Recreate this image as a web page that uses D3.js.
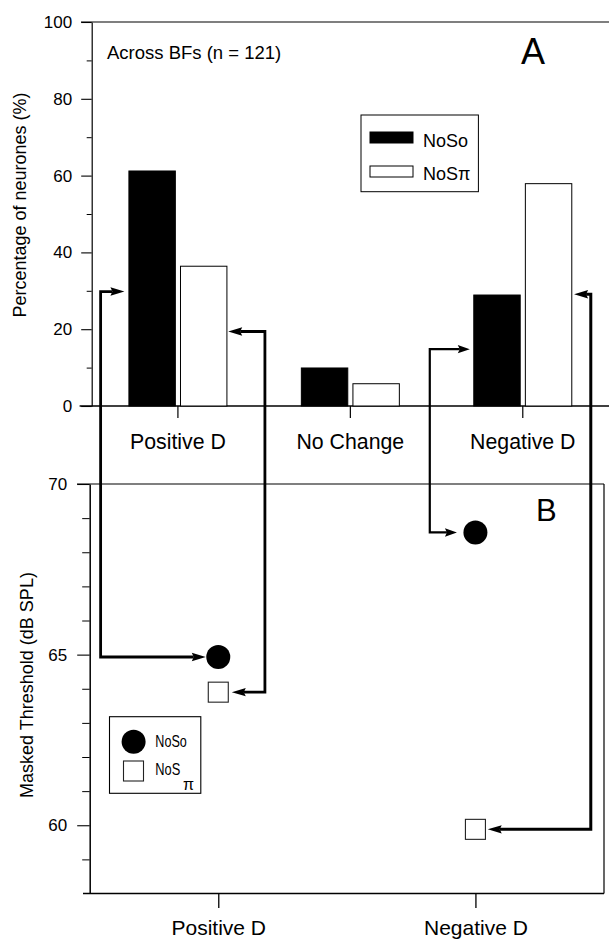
<!DOCTYPE html>
<html>
<head>
<meta charset="utf-8">
<script src="https://cdn.jsdelivr.net/npm/d3@7/dist/d3.min.js"></script>
<style>
  html, body { margin: 0; padding: 0; background: #fff; }
  svg { display: block; }
  text { font-family: "Liberation Sans", Arial, Helvetica, sans-serif; fill: #000; }
</style>
</head>
<body>
<svg id="chart" width="609" height="940"></svg>
<script>
// ---------- DATA ----------
const categoriesA = ["Positive D", "No Change", "Negative D"];
const seriesNames = ["NoSo", "NoSπ"];
const noSoPercent = [61.2, 9.9, 28.9];
const noSpiPercent = [36.4, 5.8, 57.9];
const yTicksA = [0, 20, 40, 60, 80, 100];
const yMinorTicksA = [10, 30, 50, 70, 90];

const categoriesB = ["Positive D", "Negative D"];
const noSoThreshold = [64.93, 68.58];
const noSpiThreshold = [63.9, 59.88];
const yTicksB = [60, 65, 70];
const yMinorTicksB = [59, 61, 62, 63, 64, 66, 67, 68, 69];

// connector levels on panel A (percent) for: PosD-NoSo, PosD-NoSpi, NegD-NoSo, NegD-NoSpi
const connectorLevelsA = [29.8, 19.4, 14.8, 29.1];

// ---------- SETUP ----------
const svg = d3.select("#chart");
const FONT = '"Liberation Sans", Arial, Helvetica, sans-serif';

// Panel A scales
const yA = d3.scaleLinear().domain([0, 100]).range([406, 22]);
const xA = d3.scaleBand().domain(categoriesA).range([91.7, 609]).padding(0);
const xAc = c => xA(c) + xA.bandwidth() / 2;
const xInner = d3.scaleBand().domain(seriesNames).range([-49, 49]).paddingInner(0.1);

// Panel B scales
const yB = d3.scaleLinear().domain([58, 70]).range([893.5, 484]);
const xB = d3.scalePoint().domain(categoriesB).range([89.7, 604]).padding(0.5);

// ---------- PANEL A ----------
const gA = svg.append("g");

// top frame line
gA.append("line").attr("x1", 81).attr("x2", 609).attr("y1", yA(100)).attr("y2", yA(100))
  .attr("stroke", "#000").attr("stroke-width", 1.2);

// x axis line
gA.append("line").attr("x1", 79.6).attr("x2", 609).attr("y1", yA(0)).attr("y2", yA(0))
  .attr("stroke", "#000").attr("stroke-width", 1.3);

// y axis major
const yAxisA = gA.append("g").attr("transform", "translate(91.7,0)")
  .call(d3.axisLeft(yA).tickValues(yTicksA).tickSize(10.5).tickSizeOuter(0).tickPadding(9));
yAxisA.select(".domain").attr("stroke", "#000").attr("stroke-width", 1.2);
yAxisA.selectAll(".tick line").attr("stroke", "#000").attr("stroke-width", 1.1);
yAxisA.selectAll("text").style("font-family", FONT).style("font-size", "17px").attr("fill", "#000");
// y axis minor
const yAxisAm = gA.append("g").attr("transform", "translate(91.7,0)")
  .call(d3.axisLeft(yA).tickValues(yMinorTicksA).tickSize(5).tickFormat(""));
yAxisAm.select(".domain").remove();
yAxisAm.selectAll(".tick line").attr("stroke", "#000").attr("stroke-width", 1);

// x axis ticks + labels
const xAxisA = gA.append("g").attr("transform", `translate(0,${yA(0)})`)
  .call(d3.axisBottom(xA).tickSize(12).tickSizeOuter(0));
xAxisA.select(".domain").remove();
xAxisA.selectAll(".tick line").attr("stroke", "#000").attr("stroke-width", 1.2);
xAxisA.selectAll("text").attr("y", 43).attr("dy", 0)
  .style("font-family", FONT).style("font-size", "21.3px").attr("fill", "#000");

// bars
const barData = categoriesA.map((c, i) => ({ cat: c, vals: [noSoPercent[i], noSpiPercent[i]] }));
const grp = gA.selectAll("g.cat").data(barData).join("g").attr("class", "cat")
  .attr("transform", d => `translate(${xAc(d.cat)},0)`);
grp.selectAll("rect").data(d => d.vals.map((v, j) => ({ s: seriesNames[j], v })))
  .join("rect")
  .attr("x", d => xInner(d.s))
  .attr("width", xInner.bandwidth())
  .attr("y", d => yA(d.v))
  .attr("height", d => yA(0) - yA(d.v))
  .attr("fill", d => d.s === "NoSo" ? "#000" : "#fff")
  .attr("stroke", "#000")
  .attr("stroke-width", 1);

// panel label & note
gA.append("text").attr("x", 107).attr("y", 59).text("Across BFs (n = 121)")
  .style("font-size", "18.5px");
gA.append("text").attr("x", 521).attr("y", 64).text("A").style("font-size", "36px");

// y title A
gA.append("text").attr("transform", "translate(26,205) rotate(-90)")
  .attr("text-anchor", "middle").text("Percentage of neurones (%)").style("font-size", "18px");

// legend A
const lgA = gA.append("g");
lgA.append("rect").attr("x", 361).attr("y", 115).attr("width", 117.4).attr("height", 76.7)
  .attr("fill", "#fff").attr("stroke", "#000").attr("stroke-width", 1);
lgA.append("rect").attr("x", 370).attr("y", 132).attr("width", 43).attr("height", 11)
  .attr("fill", "#000").attr("stroke", "#000");
lgA.append("rect").attr("x", 370).attr("y", 166).attr("width", 43).attr("height", 11)
  .attr("fill", "#fff").attr("stroke", "#000");
lgA.append("text").attr("x", 423).attr("y", 146.5).text(seriesNames[0]).style("font-size", "18px");
lgA.append("text").attr("x", 423).attr("y", 180).text(seriesNames[1]).style("font-size", "18px");

// ---------- PANEL B ----------
const gB = svg.append("g");

// frame: top, right, bottom
gB.append("line").attr("x1", 77).attr("x2", 604).attr("y1", yB(70)).attr("y2", yB(70))
  .attr("stroke", "#000").attr("stroke-width", 1.2);
gB.append("line").attr("x1", 604).attr("x2", 604).attr("y1", yB(70)).attr("y2", yB(58))
  .attr("stroke", "#000").attr("stroke-width", 1.2);
gB.append("line").attr("x1", 83).attr("x2", 604).attr("y1", yB(58)).attr("y2", yB(58))
  .attr("stroke", "#000").attr("stroke-width", 1.5);

const yAxisB = gB.append("g").attr("transform", "translate(89.7,0)")
  .call(d3.axisLeft(yB).tickValues(yTicksB).tickSize(12.5).tickSizeOuter(0).tickPadding(10));
yAxisB.select(".domain").attr("stroke", "#000").attr("stroke-width", 1.5);
yAxisB.selectAll(".tick line").attr("stroke", "#000").attr("stroke-width", 1.1);
yAxisB.selectAll("text").style("font-family", FONT).style("font-size", "17px").attr("fill", "#000");
const yAxisBm = gB.append("g").attr("transform", "translate(89.7,0)")
  .call(d3.axisLeft(yB).tickValues(yMinorTicksB).tickSize(7.5).tickFormat(""));
yAxisBm.select(".domain").remove();
yAxisBm.selectAll(".tick line").attr("stroke", "#000").attr("stroke-width", 1);

const xAxisB = gB.append("g").attr("transform", `translate(0,${yB(58)})`)
  .call(d3.axisBottom(xB).tickSize(14.5).tickSizeOuter(0));
xAxisB.select(".domain").remove();
xAxisB.selectAll(".tick line").attr("stroke", "#000").attr("stroke-width", 1.3);
xAxisB.selectAll("text").attr("y", 41.5).attr("dy", 0)
  .style("font-family", FONT).style("font-size", "21px").attr("fill", "#000");

// y title B
gB.append("text").attr("transform", "translate(33,685) rotate(-90)")
  .attr("text-anchor", "middle").text("Masked Threshold (dB SPL)").style("font-size", "18px");

gB.append("text").attr("x", 536).attr("y", 520.5).text("B").style("font-size", "31px");

// points
const R = 12, SQ = 20;
gB.selectAll("circle.noso").data(categoriesB.map((c, i) => ({ c, v: noSoThreshold[i] })))
  .join("circle").attr("class", "noso")
  .attr("cx", d => xB(d.c)).attr("cy", d => yB(d.v)).attr("r", R)
  .attr("fill", "#000");
gB.selectAll("rect.nospi").data(categoriesB.map((c, i) => ({ c, v: noSpiThreshold[i] })))
  .join("rect").attr("class", "nospi")
  .attr("x", d => xB(d.c) - SQ / 2).attr("y", d => yB(d.v) - SQ / 2)
  .attr("width", SQ).attr("height", SQ)
  .attr("fill", "#fff").attr("stroke", "#222").attr("stroke-width", 1.1);

// legend B
const lgB = gB.append("g");
lgB.append("rect").attr("x", 109.5).attr("y", 716.7).attr("width", 91.3).attr("height", 76.6)
  .attr("fill", "#fff").attr("stroke", "#000").attr("stroke-width", 1.1);
lgB.append("circle").attr("cx", 133.6).attr("cy", 741.7).attr("r", R).attr("fill", "#000");
lgB.append("rect").attr("x", 123.5).attr("y", 761).attr("width", SQ).attr("height", SQ)
  .attr("fill", "#fff").attr("stroke", "#222").attr("stroke-width", 1.1);
lgB.append("text").attr("x", 155.3).attr("y", 747).text("NoSo")
  .style("font-size", "16px").attr("textLength", 31.5).attr("lengthAdjust", "spacingAndGlyphs");
lgB.append("text").attr("x", 155.3).attr("y", 775).text("NoS")
  .style("font-size", "16px").attr("textLength", 25).attr("lengthAdjust", "spacingAndGlyphs");
lgB.append("text").attr("x", 183).attr("y", 790).text("π").style("font-size", "16px");

// ---------- CONNECTORS ----------
const gC = svg.append("g");
function arrowHead(tipX, tipY, dir, len, half) {
  const bx = tipX - dir * len;
  gC.append("path")
    .attr("d", `M${tipX},${tipY}L${bx},${tipY - half}L${bx + dir * 2},${tipY}L${bx},${tipY + half}Z`)
    .attr("fill", "#000");
}
function connector(ax, ay, vx, bx, by, dir, w, len) {
  const pA = ax - dir * (len - 2), pB = bx - dir * (len - 2);
  gC.append("path")
    .attr("d", `M${pA},${ay}L${vx},${ay}L${vx},${by}L${pB},${by}`)
    .attr("fill", "none").attr("stroke", "#000").attr("stroke-width", w)
    .attr("stroke-linejoin", "miter");
  arrowHead(ax, ay, dir, len, 4.2);
  arrowHead(bx, by, dir, len, 4.2);
}
const bw = xInner.bandwidth();
{
  const c = xAc("Positive D");
  const left = c + xInner("NoSo");
  connector(left - 4.5, yA(connectorLevelsA[0]), left - 28.3, xB("Positive D") - R - 0.5, yB(noSoThreshold[0]), 1, 2.8, 14);
}
{
  const c = xAc("Positive D");
  const right = c + xInner("NoSπ") + bw;
  connector(right + 1.3, yA(connectorLevelsA[1]), right + 38, xB("Positive D") + SQ / 2 + 3.5, yB(noSpiThreshold[0]), -1, 2.8, 14);
}
{
  const c = xAc("Negative D");
  const left = c + xInner("NoSo");
  connector(left - 4, yA(connectorLevelsA[2]), left - 44, xB("Negative D") - R - 6.5, yB(noSoThreshold[1]), 1, 2.2, 12);
}
{
  const c = xAc("Negative D");
  const right = c + xInner("NoSπ") + bw;
  connector(right + 2.3, yA(connectorLevelsA[3]), right + 19, xB("Negative D") + SQ / 2 + 2.3, yB(noSpiThreshold[1]), -1, 3, 14);
}
</script>
</body>
</html>
